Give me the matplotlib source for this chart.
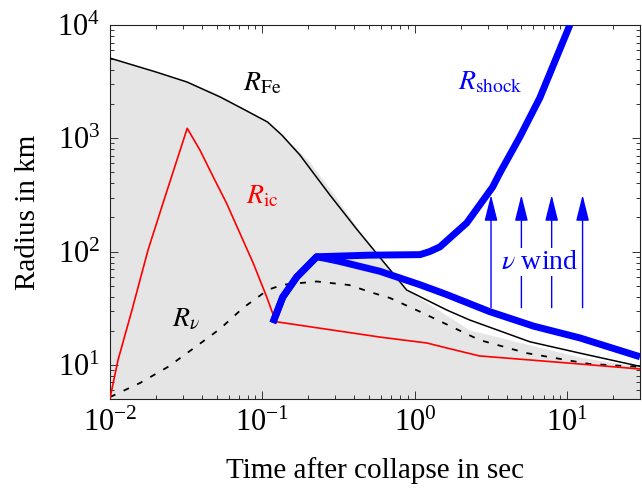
import numpy as np
import matplotlib.pyplot as plt
from matplotlib.ticker import LogLocator, NullFormatter, LogFormatterMathtext

plt.rcParams['font.family'] = 'serif'
plt.rcParams['font.serif'] = ['Liberation Serif', 'DejaVu Serif']
plt.rcParams['mathtext.fontset'] = 'stix'

# data (time in s, radius in km)
fe_t = [0.01, 0.02, 0.032, 0.053, 0.0767, 0.108, 0.134, 0.176, 0.277, 0.42, 0.884, 1.62, 2.29, 5.68, 12.1, 30]
fe_r = [5100, 3850, 3140, 2310, 1780, 1393, 1069, 713, 316, 155, 45.8, 30.5, 24.9, 16.0, 12.7, 9.7]

gray_t = [0.01, 0.032, 0.05, 0.065, 0.108, 0.2, 0.3, 0.42, 0.884, 2.29, 3.1, 5.68, 12.1, 30]
gray_r = [5100, 3150, 2500, 2050, 1400, 640, 310, 160, 46, 20.3, 18.4, 15.0, 11.7, 9.6]

ic_t = [0.01, 0.01128, 0.01394, 0.01775, 0.02294, 0.0321, 0.0389, 0.0475, 0.0582, 0.0712,
        0.0871, 0.1065, 0.119, 0.124, 0.59, 1.2, 1.62, 2.65, 10, 30]
ic_r = [5.07, 11.0, 30.5, 103, 303, 1225, 788, 458, 267, 145,
        78.9, 40, 26.6, 24.0, 17.6, 15.6, 14.1, 12.0, 10.4, 9.2]

nu_t = [0.01, 0.01573, 0.024, 0.0356, 0.0527, 0.0745, 0.1087, 0.136, 0.227, 0.37, 0.53, 0.685,
        1.08, 2.65, 5.42, 13.9, 30]
nu_r = [5.2, 6.92, 9.6, 14.1, 20.8, 31.8, 46, 51, 54.5, 50.7, 43.2, 39,
        29.5, 16.6, 12.7, 10.2, 9.6]

rise_t = [0.117, 0.136, 0.168, 0.227]
rise_r = [23.5, 39.7, 59.7, 90]
up_t = [0.227, 0.5, 1.08, 1.25, 1.46, 2.19, 3.24, 3.61, 4.88, 6.6, 10.4]
up_r = [91, 93, 94, 100, 110, 179, 372, 494, 1026, 2270, 10000]
down_t = [0.227, 0.26, 0.32, 0.59, 1.08, 1.6, 3.1, 6.0, 12.1, 30]
down_r = [88, 87, 82, 67, 51, 42, 29.5, 22, 17.3, 11.8]

wind_t = [3.16, 5.0, 7.9, 12.6]
wind_base = 32
wind_top = 316

fig = plt.figure(figsize=(6.42, 4.88), dpi=100)
ax = fig.add_axes([110 / 642, 89 / 488, 530 / 642, 374 / 488])
ax.set_xscale('log')
ax.set_yscale('log')

ax.fill_between(gray_t, gray_r, 1, color='#e5e5e5', lw=0, zorder=1)
ax.plot(fe_t, fe_r, color='black', lw=1.1, zorder=3)
ax.plot(nu_t, nu_r, color='black', lw=1.3, ls=(0, (3.3, 5.0)), zorder=3)
ax.plot(ic_t, ic_r, color='#ff0000', lw=1.2, zorder=4)

shock_kw = dict(color='#0000ff', lw=5, solid_joinstyle='round', solid_capstyle='butt', zorder=5)
ax.plot(rise_t + up_t[1:], rise_r + up_r[1:], **shock_kw)
ax.plot(rise_t + down_t[1:], rise_r + down_r[1:], **shock_kw)

for t in wind_t:
    ax.annotate('', xy=(t, wind_top), xytext=(t, wind_base),
                arrowprops=dict(arrowstyle='-|>,head_length=1.6,head_width=0.4',
                                color='#0000ff', lw=1.0, shrinkA=0, shrinkB=0,
                                mutation_scale=10), zorder=6)

ax.text(0.811, 0.366, r'$\nu$ wind', transform=ax.transAxes, color='#0000ff',
        fontsize=20, ha='center', va='center', zorder=7,
        bbox=dict(facecolor='white', edgecolor='none', pad=1))

ax.text(0.287, 0.842, r'$R_{\mathrm{Fe}}$', transform=ax.transAxes, fontsize=20,
        ha='center', va='center', color='black')
ax.text(0.287, 0.540, r'$R_{\mathrm{ic}}$', transform=ax.transAxes, fontsize=20,
        ha='center', va='center', color='#ff0000')
ax.text(0.717, 0.845, r'$R_{\mathrm{shock}}$', transform=ax.transAxes, fontsize=20,
        ha='center', va='center', color='#0000ff')
ax.text(0.143, 0.211, r'$R_{\nu}$', transform=ax.transAxes, fontsize=20,
        ha='center', va='center', color='black')

ax.set_xlim(0.01, 30)
ax.set_ylim(5, 1e4)
ax.xaxis.set_major_locator(LogLocator(base=10, numticks=10))
ax.yaxis.set_major_locator(LogLocator(base=10, numticks=10))
ax.xaxis.set_minor_locator(LogLocator(base=10, subs=np.arange(2, 10), numticks=20))
ax.yaxis.set_minor_locator(LogLocator(base=10, subs=np.arange(2, 10), numticks=20))
ax.xaxis.set_major_formatter(LogFormatterMathtext())
ax.yaxis.set_major_formatter(LogFormatterMathtext())
ax.xaxis.set_minor_formatter(NullFormatter())
ax.yaxis.set_minor_formatter(NullFormatter())

ax.tick_params(which='both', direction='in', top=True, right=True, width=0.7, color='#333333')
ax.tick_params(which='major', length=5.5, labelsize=22, pad=7)
ax.tick_params(which='minor', length=3.2)
for s in ax.spines.values():
    s.set_linewidth(0.8)
    s.set_color('#222222')

ax.set_xlabel('Time after collapse in sec', fontsize=21, labelpad=14)
ax.set_ylabel('Radius in km', fontsize=21, labelpad=12)

fig.savefig('out.png', dpi=100)
